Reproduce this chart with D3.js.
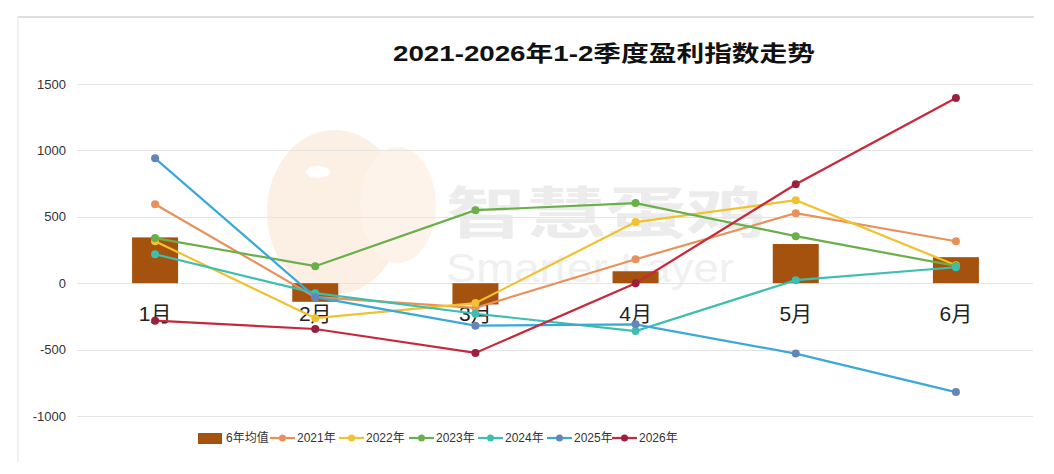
<!DOCTYPE html>
<html>
<head>
<meta charset="utf-8">
<script src="https://cdn.jsdelivr.net/npm/d3@7"></script>
<style>
  body { margin: 0; background: #fff; }
  text { font-family: "Liberation Sans", "Noto Sans CJK SC", sans-serif; }
</style>
</head>
<body>
<div id="chart"></div>
<script>
  // months on the x axis
  let months = ['1月', '2月', '3月', '4月', '5月', '6月'];
  let yTicks = [-1000, -500, 0, 500, 1000, 1500];

  // six year average (bars)
  let avg6 = [345, -140, -160, 90, 295, 196];

  // yearly series
  let years = ['2021年', '2022年', '2023年', '2024年', '2025年', '2026年'];
  let v2021 = [595, -105, -185, 180, 527, 316];
  let v2022 = [316, -263, -150, 460, 625, 135];
  let v2023 = [340, 128, 550, 603, 354, 130];
  let v2024 = [218, -75, -230, -360, 23, 120];
  let v2025 = [940, -105, -320, -310, -530, -820];
  let v2026 = [-282, -345, -525, 0, 745, 1395];

  let lineColors = ['#e8915a', '#f2c12e', '#6aaf4a', '#3dbfb0', '#3aa8d8', '#c8283a'];
  let dotColors = ['#e8915a', '#f2c12e', '#6aaf4a', '#3dbfb0', '#6585b8', '#9b2040'];

  let width = 1054;
  let height = 474;

  let svg = d3.select('#chart')
  .append('svg')
  .attr('width', width)
  .attr('height', height);

  // frame lines (top + left)
  svg.append('line').attr('x1', 18).attr('x2', 1034).attr('y1', 17).attr('y2', 17)
  .attr('stroke', '#dcdfdc').attr('stroke-width', 2);
  svg.append('line').attr('x1', 18).attr('x2', 18).attr('y1', 17).attr('y2', 462)
  .attr('stroke', '#e2e2e2').attr('stroke-width', 1);

  let x = d3.scaleBand().domain(months).range([75, 1036]);
  let y = d3.scaleLinear().domain([-1000, 1500]).range([416, 84]);

  // watermark
  let wm = svg.append('g');
  wm.append('ellipse').attr('cx', 335).attr('cy', 212).attr('rx', 68).attr('ry', 82).attr('fill', '#fcefe3');
  wm.append('ellipse').attr('cx', 398).attr('cy', 205).attr('rx', 38).attr('ry', 58).attr('fill', '#fdf3ea');
  wm.append('ellipse').attr('cx', 318).attr('cy', 172).attr('rx', 12).attr('ry', 6).attr('fill', '#fff');
  wm.append('text').attr('x', 446).attr('y', 233).attr('font-size', 56).attr('font-weight', 'bold')
  .attr('font-family', 'Noto Sans CJK SC')
  .attr('textLength', 320).attr('lengthAdjust', 'spacingAndGlyphs')
  .attr('fill', '#ececec').text('智慧蛋鸡');
  wm.append('text').attr('x', 446).attr('y', 282).attr('font-size', 40)
  .attr('textLength', 288).attr('lengthAdjust', 'spacingAndGlyphs')
  .attr('fill', '#f0f0f0').text('Smarter Layer');

  // grid
  svg.append('g')
  .selectAll('line')
  .data(yTicks)
  .enter().append('line')
  .attr('x1', 77).attr('x2', 1033)
  .attr('y1', (d) => Math.round(y(d)) + 0.5)
  .attr('y2', (d) => Math.round(y(d)) + 0.5)
  .attr('stroke', '#e4e4e4').attr('stroke-width', 1);

  // y axis labels
  svg.append('g')
  .selectAll('text')
  .data(yTicks)
  .enter().append('text')
  .attr('x', 66)
  .attr('y', (d) => y(d))
  .attr('dy', '0.35em')
  .attr('text-anchor', 'end')
  .attr('font-size', 13)
  .attr('fill', '#333')
  .text((d) => d);

  // bars
  let barW = 46;
  svg.append('g')
  .selectAll('rect')
  .data(avg6)
  .enter().append('rect')
  .attr('x', (d, i) => x(months[i]) + x.bandwidth() / 2 - barW / 2)
  .attr('y', (d) => y(Math.max(0, d)))
  .attr('width', barW)
  .attr('height', (d) => Math.abs(y(d) - y(0)))
  .attr('fill', '#a5520e');

  // month labels sitting under the zero line
  svg.append('g')
  .selectAll('text')
  .data(months)
  .enter().append('text')
  .attr('x', (d) => x(d) + x.bandwidth() / 2)
  .attr('y', 321)
  .attr('text-anchor', 'middle')
  .attr('font-size', 21)
  .attr('fill', '#222')
  .text((d) => d);

  // lines
  let series = [v2021, v2022, v2023, v2024, v2025, v2026];
  let line = d3.line()
  .x((d, i) => x(months[i]) + x.bandwidth() / 2)
  .y((d) => y(d));

  series.forEach((vals, k) => {
    let g = svg.append('g');
    g.append('path')
    .attr('d', line(vals))
    .attr('fill', 'none')
    .attr('stroke', lineColors[k])
    .attr('stroke-width', 2.2);
    g.selectAll('circle')
    .data(vals)
    .enter().append('circle')
    .attr('cx', (d, i) => x(months[i]) + x.bandwidth() / 2)
    .attr('cy', (d) => y(d))
    .attr('r', 4)
    .attr('fill', dotColors[k]);
  });

  // title
  svg.append('text')
  .attr('x', 393)
  .attr('y', 61)
  .attr('font-size', 22)
  .attr('font-weight', 'bold')
  .attr('textLength', 422)
  .attr('lengthAdjust', 'spacingAndGlyphs')
  .attr('fill', '#111')
  .text('2021-2026年1-2季度盈利指数走势');

  // legend
  let leg = svg.append('g').attr('transform', 'translate(0, 438)');
  leg.append('rect').attr('x', 198).attr('y', -5).attr('width', 24).attr('height', 11).attr('fill', '#a5520e');
  leg.append('text').attr('x', 226).attr('dy', '0.35em').attr('font-size', 12).attr('fill', '#333').text('6年均值');

  let legX = [270, 339, 409, 478, 547, 612];
  years.forEach((name, k) => {
    let gx = legX[k];
    leg.append('line').attr('x1', gx).attr('x2', gx + 25).attr('y1', 0).attr('y2', 0)
    .attr('stroke', lineColors[k]).attr('stroke-width', 2.2);
    leg.append('circle').attr('cx', gx + 12.5).attr('cy', 0).attr('r', 3.5).attr('fill', dotColors[k]);
    leg.append('text').attr('x', gx + 27).attr('dy', '0.35em').attr('font-size', 12).attr('fill', '#333').text(name);
  });
</script>
</body>
</html>
